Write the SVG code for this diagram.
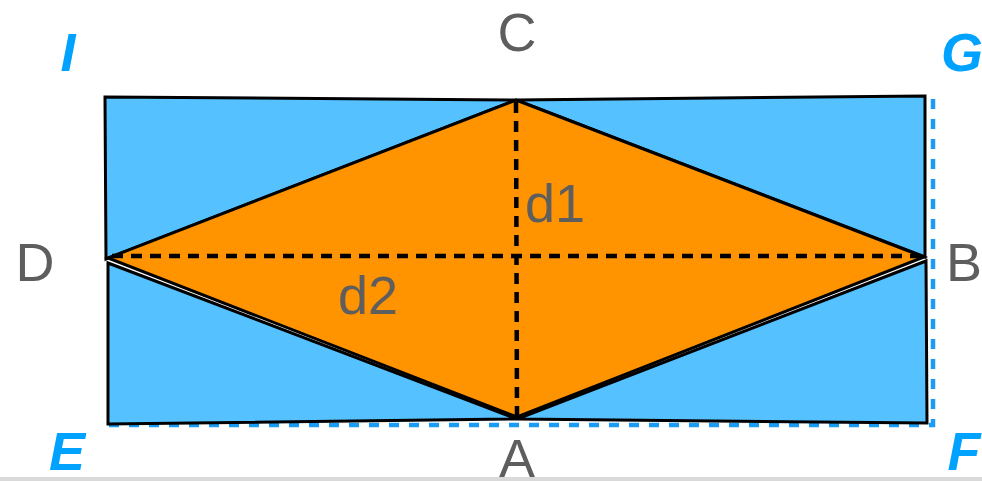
<svg xmlns="http://www.w3.org/2000/svg" width="982" height="481" viewBox="0 0 982 481">
<style>
.blue{fill:#56c1ff;stroke:#000;stroke-width:3;stroke-linejoin:miter}
.orange{fill:#ff9300;stroke:#000;stroke-width:3;stroke-linejoin:miter}
.diag{fill:none;stroke:#000;stroke-width:4.5;stroke-dasharray:11 8}
.bdash{fill:none;stroke:#1a9cf5;stroke-width:4.5;stroke-dasharray:10 10}
.lbl{font-family:"Liberation Sans",Arial,sans-serif;font-size:54px;fill:#5e5e5e;text-anchor:middle}
.pt{font-family:"Liberation Sans",Arial,sans-serif;font-size:54px;font-weight:bold;font-style:italic;fill:#00a2ff;text-anchor:middle}
</style>
<rect x="0" y="0" width="982" height="481" fill="#fff"/>
<g id="connectors">
<polyline class="bdash" points="933,99 933,425 108,425"/>
</g>
<g id="tri-IC-D"><polygon class="blue" points="105,97 516,100 106,259"/></g>
<g id="tri-CG-B"><polygon class="blue" points="516,100 925,96 925,257"/></g>
<g id="tri-D-A-E"><polygon class="blue" points="108,263 517,419 108,424"/></g>
<g id="tri-B-A-F"><polygon class="blue" points="926,261 517,419 927,423"/></g>
<g id="rhombus"><polygon class="orange" points="516,100 924,257 517,417 108,258"/></g>
<g id="diagonals">
<line class="diag" x1="516" y1="102" x2="517" y2="416"/>
<line class="diag" x1="112" y1="256" x2="922" y2="256"/>
</g>
<g id="labels">
<text class="lbl" x="517" y="51">C</text>
<text class="lbl" x="35" y="281">D</text>
<text class="lbl" x="964" y="281">B</text>
<text class="lbl" x="517" y="477">A</text>
<text class="lbl" x="555" y="222">d1</text>
<text class="lbl" x="368" y="314">d2</text>
<text class="pt" x="68" y="71">I</text>
<text class="pt" x="962" y="71">G</text>
<text class="pt" x="67" y="470">E</text>
<text class="pt" x="964" y="470">F</text>
</g>
<rect x="0" y="477" width="982" height="4" fill="#d9d9d9"/>
</svg>
